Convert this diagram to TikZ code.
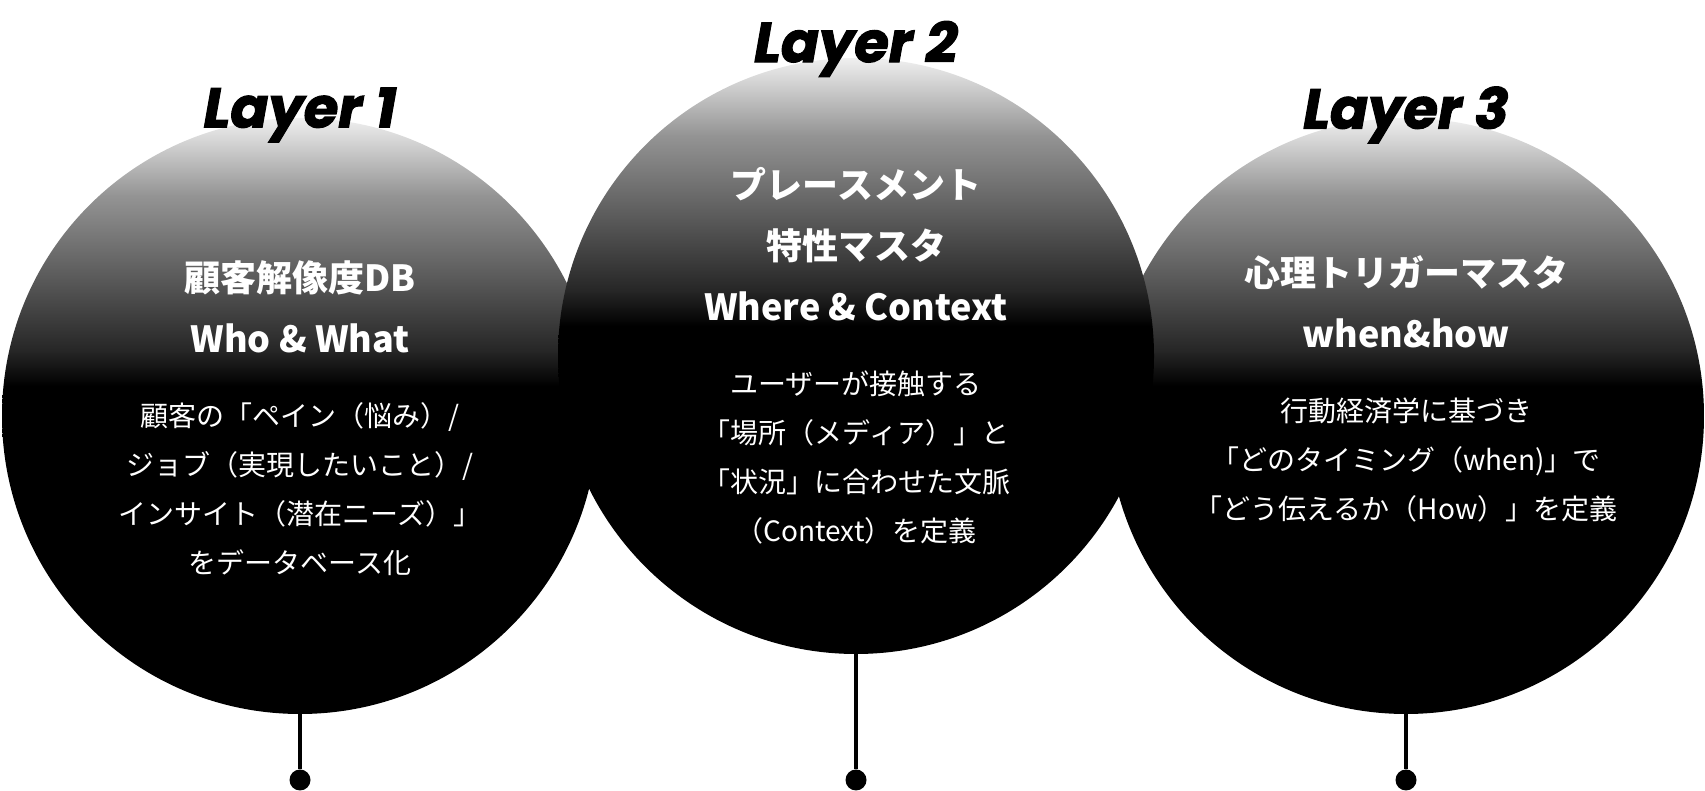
\documentclass[tikz,border=0pt]{standalone}
\usepackage{fontspec}
\setmainfont{Noto Sans CJK JP}
\newfontfamily\layerfont{Poppins}[BoldItalicFeatures={FakeBold=2}]

% white at the top, black from the middle down
\pgfdeclareverticalshading{ballfade}{100bp}{color(0bp)=(black); color(25bp)=(black); color(52.5bp)=(black); color(55.5bp)=(black!85); color(61.5bp)=(black!65); color(68.5bp)=(black!42); color(75bp)=(black!6); color(100bp)=(black!6)}

\tikzset{
    ball/.style={circle, shade, shading=ballfade, minimum size=596pt, inner sep=0pt, outer sep=0pt},
    pin/.style={circle, fill=black, minimum size=21pt, inner sep=0pt},
    stem/.style={line width=4pt},
    layername/.style={font=\layerfont\bfseries\itshape\fontsize{56}{56}\selectfont},
    title/.style={text=white, align=center, font=\bfseries\fontsize{36}{61}\selectfont},
    body/.style={text=white, align=center, font=\fontsize{28}{49}\selectfont},
}

\begin{document}
\begin{tikzpicture}[x=1pt, y=1pt]
    \useasboundingbox (0,0) rectangle (1705,791);

    \node[ball] (c1) at (300,375) {};
    \node[ball] (c3) at (1406,375) {};
    \node[ball] (c2) at (856,435) {};

    \node[pin] (d1) at (300,11) {};
    \node[pin] (d2) at (856,11) {};
    \node[pin] (d3) at (1406,11) {};
    \draw[stem] (c1.south) -- (d1);
    \draw[stem] (c2.south) -- (d2);
    \draw[stem] (c3.south) -- (d3);

    \node[layername] (n1) at (300,676) {Layer 1};
    \node[layername] (n2) at (856,742) {Layer 2};
    \node[layername] (n3) at (1406,676) {Layer 3};

    % layer 1
    \node[title] (t1) at (300,484) {顧客解像度DB\\Who \& What};
    \node[body] (b1) at (300,302) {顧客の「ペイン（悩み）/\\ジョブ（実現したいこと）/\\インサイト（潜在ニーズ）」\\をデータベース化};

    % layer 2
    \node[title] (t2) at (856,547) {プレースメント\\特性マスタ\\Where \& Context};
    \node[body] (b2) at (856,333) {ユーザーが接触する\\「場所（メディア）」と\\「状況」に合わせた文脈\\（Context）を定義};

    % layer 3
    \node[title] (t3) at (1406,489) {心理トリガーマスタ\\when\&how};
    \node[body] (b3) at (1406,331) {行動経済学に基づき\\「どのタイミング（when)」で\\「どう伝えるか（How）」を定義};
\end{tikzpicture}
\end{document}
